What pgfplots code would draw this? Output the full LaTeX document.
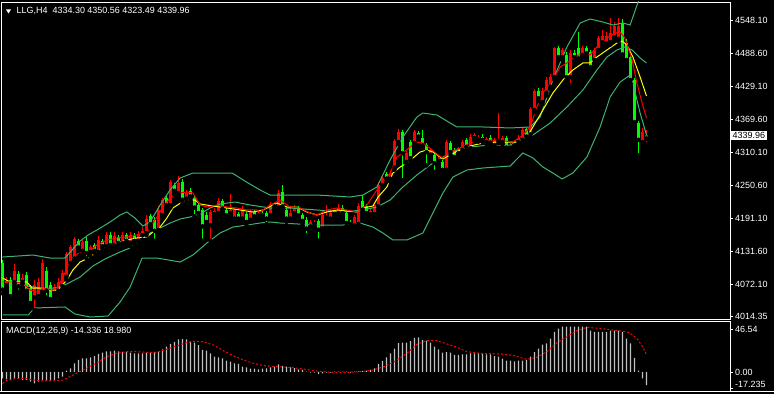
\documentclass[border=0pt]{standalone}
\usepackage{pgfplots}
\pgfplotsset{compat=1.18}
\usepackage{pgfplotstable}
\usepackage{fontspec}
\setmainfont{Liberation Sans}
\definecolor{bbgreen}{RGB}{60,179,113}
\definecolor{histgray}{RGB}{192,192,192}
\definecolor{cred}{RGB}{255,0,0}
\definecolor{cgreen}{RGB}{0,255,0}
\definecolor{cyel}{RGB}{255,255,0}
\newcommand{\lf}{\fontsize{9}{10}\selectfont}

\pgfplotstableread{
i O H L C
0 4110 4115 4055 4062
1 4070 4085 4066 4078
2 4080 4084 4045 4050
3 4075 4108 4070 4096
4 4090 4095 4058 4068
5 4076 4090 4072 4082
6 4088 4094 4052 4060
7 4065 4070 4033 4038
8 4048 4080 4025 4070
9 4050 4082 4045 4075
10 4058 4118 4055 4110
11 4095 4102 4048 4060
12 4070 4075 4040 4045
13 4056 4072 4052 4066
14 4060 4082 4056 4076
15 4068 4098 4064 4092
16 4085 4130 4080 4126
17 4110 4142 4104 4138
18 4118 4156 4114 4154
19 4150 4154 4132 4138
20 4132 4152 4124 4148
21 4150 4156 4118 4128
22 4130 4142 4122 4138
23 4142 4146 4128 4132
24 4130 4158 4126 4152
25 4150 4154 4134 4140
26 4140 4166 4138 4160
27 4160 4166 4138 4142
28 4142 4166 4138 4158
29 4156 4160 4140 4146
30 4146 4166 4142 4160
31 4160 4164 4146 4150
32 4146 4166 4140 4160
33 4160 4164 4144 4150
34 4150 4168 4146 4162
35 4160 4174 4152 4168
36 4164 4196 4160 4190
37 4194 4198 4172 4180
38 4188 4192 4150 4168
39 4170 4212 4166 4206
40 4196 4228 4192 4224
41 4228 4232 4208 4214
42 4214 4260 4210 4256
43 4250 4254 4234 4240
44 4236 4266 4230 4254
45 4256 4262 4218 4224
46 4226 4242 4220 4236
47 4240 4246 4222 4230
48 4228 4232 4194 4210
49 4214 4218 4192 4200
50 4206 4210 4150 4176
51 4196 4202 4178 4184
52 4178 4206 4150 4202
53 4198 4210 4194 4204
54 4200 4228 4196 4222
55 4222 4226 4200 4208
56 4206 4210 4190 4196
57 4200 4234 4196 4206
58 4190 4210 4184 4206
59 4198 4202 4186 4190
60 4190 4212 4186 4208
61 4198 4202 4178 4184
62 4188 4206 4184 4202
63 4202 4206 4190 4194
64 4196 4206 4192 4200
65 4200 4204 4190 4196
66 4200 4204 4180 4190
67 4196 4220 4192 4216
68 4216 4218 4208 4212
69 4210 4242 4206 4236
70 4238 4250 4208 4212
71 4206 4210 4184 4190
72 4190 4212 4186 4200
73 4200 4214 4196 4210
74 4208 4212 4190 4196
75 4196 4200 4180 4186
76 4188 4192 4160 4172
77 4176 4188 4172 4184
78 4180 4188 4176 4182
79 4186 4190 4150 4170
80 4172 4206 4168 4196
81 4192 4214 4188 4194
82 4190 4206 4184 4200
83 4200 4204 4192 4198
84 4200 4216 4196 4210
85 4210 4214 4196 4200
86 4200 4204 4176 4182
87 4184 4188 4176 4180
88 4178 4196 4174 4192
89 4180 4218 4176 4212
90 4222 4232 4202 4206
91 4212 4216 4194 4200
92 4198 4208 4194 4204
93 4198 4218 4194 4214
94 4212 4256 4208 4250
95 4250 4268 4246 4264
96 4270 4274 4256 4262
97 4262 4278 4256 4272
98 4282 4334 4278 4330
99 4328 4352 4324 4346
100 4346 4350 4259 4308
101 4292 4312 4288 4308
102 4328 4332 4294 4299
103 4326 4350 4322 4346
104 4344 4348 4334 4338
105 4335 4350 4318 4322
106 4322 4326 4286 4310
107 4305 4318 4300 4313
108 4305 4308 4274 4290
109 4294 4302 4290 4298
110 4292 4296 4274 4278
111 4278 4332 4274 4328
112 4326 4330 4305 4310
113 4314 4318 4296 4301
114 4308 4320 4304 4317
115 4314 4332 4310 4328
116 4332 4336 4315 4319
117 4317 4342 4313 4337
118 4335 4345 4330 4340
119 4333 4341 4329 4337
120 4338 4342 4328 4332
121 4328 4338 4324 4334
122 4336 4340 4322 4327
123 4322 4335 4313 4331
124 4330 4380 4326 4334
125 4328 4339 4324 4335
126 4335 4339 4314 4318
127 4318 4327 4314 4323
128 4322 4330 4318 4325
129 4328 4340 4324 4335
130 4332 4356 4328 4350
131 4352 4356 4334 4338
132 4342 4392 4338 4388
133 4386 4424 4382 4420
134 4420 4426 4402 4407
135 4400 4426 4396 4420
136 4417 4446 4412 4440
137 4428 4450 4424 4446
138 4445 4500 4440 4497
139 4497 4502 4476 4481
140 4481 4498 4476 4494
141 4485 4490 4440 4445
142 4445 4494 4430 4489
143 4489 4494 4476 4481
144 4497 4526 4474 4479
145 4485 4502 4480 4497
146 4497 4502 4484 4488
147 4490 4494 4456 4463
148 4476 4498 4470 4494
149 4494 4520 4490 4515
150 4508 4530 4504 4520
151 4506 4526 4500 4520
152 4508 4552 4504 4524
153 4517 4544 4512 4538
154 4514 4552 4510 4538
155 4542 4550 4478 4486
156 4506 4514 4468 4476
157 4482 4486 4434 4440
158 4440 4444 4358 4364
159 4362 4366 4304 4332
160 4328 4354 4324 4346
161 4334.30 4350.56 4323.49 4339.96
}\candles

\pgfplotstableread{
i p
0 4082.9
1.9 4075.7
6.1 4075.7
7.4 4064.8
9.4 4064.8
11.9 4061.2
13.9 4061.2
16.1 4079.3
17.6 4097.3
19.4 4111.7
21.4 4118.9
23.6 4129.8
25.1 4137.0
26.9 4140.6
28.6 4146.0
31.1 4151.4
33.6 4155.0
36.1 4156.8
37.6 4165.8
39.4 4174.8
41.1 4191.1
42.6 4209.1
44.9 4219.9
46.4 4223.5
48.1 4223.5
49.4 4216.3
52.6 4212.7
56.1 4209.1
59.4 4205.5
62.6 4201.9
65.1 4205.5
68.6 4218.1
71.1 4210.9
73.6 4210.9
76.1 4201.9
78.6 4196.5
81.1 4201.9
83.6 4205.5
86.1 4203.7
88.6 4201.9
90.1 4209.1
92.6 4212.7
93.9 4228.9
96.1 4247.0
97.6 4272.2
99.4 4283.0
101.1 4290.2
102.6 4299.3
104.4 4310.1
106.1 4313.7
107.6 4310.1
109.4 4301.1
110.1 4297.5
111.9 4304.7
114.4 4313.7
116.9 4320.9
120.1 4326.3
123.6 4328.1
128.6 4328.1
131.1 4337.1
132.6 4355.2
135.1 4385.8
137.6 4416.5
140.1 4439.9
142.6 4458.0
145.1 4470.6
146.9 4470.6
148.6 4481.4
151.1 4494.0
153.6 4506.6
154.9 4510.2
156.1 4503.0
157.6 4481.4
159.4 4445.3
161 4411.1
}\yellowma

\pgfplotstableread{
i p
0 4075.7
2.6 4075.7
5.1 4073.9
6.9 4061.2
8.6 4057.6
10.1 4064.8
12.4 4061.2
13.9 4066.6
15.6 4091.9
17.4 4118.9
19.4 4129.8
21.1 4128.0
23.6 4142.4
26.1 4151.4
28.6 4155.0
31.1 4156.8
33.6 4160.4
36.1 4165.8
38.6 4192.9
40.1 4210.9
41.9 4227.1
43.6 4236.1
46.1 4237.9
47.6 4236.1
49.4 4214.5
51.1 4210.9
53.6 4214.5
56.1 4210.9
58.6 4209.1
61.1 4205.5
63.6 4205.5
64.4 4201.9
66.9 4214.5
69.4 4223.5
71.9 4210.9
74.4 4209.1
76.9 4200.1
78.6 4196.5
81.1 4205.5
83.6 4209.1
86.1 4205.5
88.6 4201.9
91.1 4214.5
93.6 4241.6
95.1 4254.2
96.9 4272.2
98.6 4301.1
100.1 4308.3
101.9 4319.1
103.6 4328.1
105.1 4326.3
107.4 4313.7
108.9 4304.7
110.1 4299.3
111.9 4310.1
114.4 4317.3
116.9 4326.3
120.1 4331.7
123.6 4331.7
127.6 4328.1
130.1 4340.7
131.9 4355.2
133.6 4391.2
135.1 4416.5
137.6 4439.9
139.4 4463.4
141.1 4470.6
142.6 4479.6
145.1 4488.6
146.9 4485.0
148.6 4499.4
151.1 4515.6
153.1 4524.6
154.4 4526.5
155.6 4515.6
157.4 4476.0
158.6 4434.5
159.9 4398.4
161 4371.4
}\redma

\pgfplotstableread{
i p
0 4120.7
7.6 4124.3
11.9 4118.9
15.6 4118.9
17.4 4133.4
19.4 4149.6
21.4 4160.4
23.6 4169.4
26.9 4183.9
29.4 4196.5
31.1 4201.9
33.1 4191.1
35.1 4176.6
36.9 4183.9
39.4 4214.5
41.9 4241.6
44.4 4263.2
47.6 4272.2
57.4 4272.2
59.4 4263.2
61.4 4254.2
64.4 4241.6
66.9 4232.5
69.4 4232.5
78.6 4232.5
86.9 4228.9
90.1 4232.5
93.6 4247.0
96.9 4295.7
100.1 4337.1
103.6 4373.2
105.1 4380.4
108.6 4376.8
111.9 4362.4
113.6 4355.2
120.1 4355.2
126.9 4353.4
131.9 4355.2
134.4 4373.2
137.6 4439.9
141.1 4499.4
144.4 4542.7
146.9 4549.9
150.1 4544.5
152.6 4539.1
155.1 4542.7
156.9 4539.1
158.9 4580.6
161 4622.0
}\bbup

\pgfplotstableread{
i p
0 4070.3
4.4 4070.3
9.4 4064.8
13.1 4064.8
16.1 4072.1
19.4 4084.7
22.6 4104.5
25.6 4117.1
29.4 4129.8
31.9 4137.0
34.4 4151.4
36.9 4164.0
39.4 4173.0
41.9 4182.0
44.4 4189.3
46.9 4192.9
49.4 4198.3
51.9 4209.1
54.4 4216.3
58.1 4219.9
61.9 4214.5
66.9 4209.1
71.9 4209.1
78.6 4205.5
85.1 4201.9
90.1 4205.5
93.6 4210.9
96.9 4223.5
100.1 4247.0
103.6 4268.6
106.9 4286.6
110.1 4301.1
113.6 4313.7
116.9 4319.1
121.9 4322.7
126.9 4322.7
129.4 4331.7
132.6 4340.7
136.9 4362.4
141.1 4391.2
145.1 4421.9
148.6 4458.0
151.1 4481.4
153.6 4494.0
155.6 4499.4
157.4 4494.0
159.4 4479.6
161 4470.6
}\bbmid

\pgfplotstableread{
i p
0 4016.2
6.4 4016.2
8.1 4028.8
15.6 4030.6
18.1 4018.0
21.9 4012.5
26.4 4014.4
29.4 4039.6
31.9 4066.6
34.9 4118.9
38.6 4118.9
44.4 4111.7
47.6 4124.3
51.1 4146.0
54.4 4164.0
57.6 4174.8
61.1 4178.4
64.4 4182.0
66.9 4183.9
69.4 4182.0
78.6 4178.4
85.1 4178.4
89.4 4182.0
92.6 4174.8
95.1 4164.0
97.6 4151.4
101.1 4151.4
105.1 4164.0
107.6 4200.1
110.1 4236.1
112.6 4265.0
116.1 4277.6
120.1 4281.2
126.9 4284.8
130.1 4308.3
132.6 4299.3
135.1 4283.0
137.6 4272.2
139.9 4261.4
142.6 4272.2
146.1 4301.1
149.4 4355.2
151.9 4409.2
154.4 4436.3
156.9 4448.9
157.6 4434.5
159.4 4380.4
161 4340.7
}\bblow

\pgfplotstableread{
i m
0 -6.9
1 -7.9
2 -8.7
3 -6.9
4 -6.9
5 -8.7
6 -8.7
7 -10.5
8 -12.3
9 -10.5
10 -8.7
11 -9.4
12 -9.4
13 -8.7
14 -6.9
15 -5.0
16 1.5
17 4.0
18 9.4
19 13.0
20 14.8
21 14.8
22 15.9
23 17.3
24 19.5
25 21.0
26 22.4
27 22.4
28 23.0
29 22.4
30 21.7
31 21.7
32 21.0
33 20.2
34 20.2
35 20.2
36 21.0
37 21.0
38 21.7
39 22.0
40 24.5
41 27.4
42 30.3
43 32.5
44 35.3
45 35.7
46 35.3
47 32.8
48 31.7
49 29.2
50 23.8
51 23.0
52 20.2
53 16.6
54 15.9
55 14.8
56 12.3
57 11.2
58 9.4
59 8.7
60 5.8
61 5.0
62 3.6
63 3.6
64 2.9
65 3.6
66 4.0
67 5.0
68 5.8
69 8.3
70 6.5
71 5.8
72 5.0
73 4.3
74 2.9
75 2.2
76 0.3
77 -0.7
78 -0.7
79 -2.2
80 -1.5
81 -0.7
82 -0.7
83 0.3
84 0.3
85 0.5
86 0.5
87 -0.7
88 0.3
89 0.7
90 1.0
91 1.4
92 2.2
93 4.0
94 8.7
95 12.0
96 15.9
97 20.2
98 25.2
99 31.3
100 31.7
101 31.7
102 33.5
103 36.8
104 37.5
105 34.6
106 33.9
107 31.7
108 27.4
109 24.5
110 20.9
111 21.6
112 20.9
113 18.4
114 18.4
115 19.1
116 19.1
117 20.2
118 20.2
119 20.2
120 20.2
121 19.1
122 19.1
123 17.3
124 16.6
125 14.4
126 12.3
127 12.3
128 11.5
129 12.3
130 12.3
131 13.0
132 16.6
133 21.6
134 25.2
135 29.6
136 31.0
137 36.0
138 43.3
139 46.9
140 49.0
141 49.0
142 49.0
143 49.0
144 49.0
145 49.0
146 49.0
147 44.7
148 43.3
149 43.3
150 43.3
151 43.3
152 44.7
153 44.7
154 44.7
155 43.3
156 36.0
157 31.0
158 15.2
159 1.4
160 -7.0
161 -14.336
}\macdtab

\pgfplotstableread{
i s
0 -12.5
1 -9.4
2.7 -7.6
4.4 -6.9
6 -7.2
7.7 -8.7
10.2 -9.7
12.7 -9.7
15.2 -8.7
16.9 -5.0
18.5 -1.4
21 4.0
23.5 9.4
26 16.6
28.5 20.2
31 22.0
33.5 22.0
36 21.3
38.5 21.3
41 24.5
43.5 28.1
46 31.7
47.7 33.2
50.2 32.8
52.7 29.2
55.2 23.0
57.7 17.7
60.2 13.0
62.7 9.4
65.2 6.9
68.5 5.8
71.9 5.0
75.2 3.2
78.5 1.1
81.9 -0.4
86.9 -0.4
90.2 0.7
92.7 2.2
95.2 5.5
97.7 10.5
101.1 20.2
103.6 30.0
106.1 33.9
108.6 33.9
111.1 30.3
113.6 26.7
116.1 22.0
119.4 20.2
124.4 19.5
127.6 18.0
131.1 13.7
133.6 15.9
136.1 22.0
138.6 31.7
141.1 38.2
143.6 44.7
146.1 48.3
149.4 47.2
152.6 45.4
156.1 43.6
157.6 40.0
158.9 34.6
160.1 26.7
161 18.98
}\signaltab

\begin{document}
\begin{tikzpicture}
\fill[black] (0,0) rectangle (774bp,394bp);
\path[use as bounding box] (0,0) rectangle (774bp,394bp);

\begin{axis}[
  at={(1bp,75bp)}, anchor=south west,
  width=729bp, height=317bp, scale only axis,
  xmin=-0.375, xmax=181.875,
  ymin=4008.94, ymax=4580.6,
  axis line style={white, line width=0.8bp},
  xtick=\empty,
  ytick={4014.35,4072.10,4131.60,4191.10,4250.60,4310.10,4369.60,4429.10,4488.60,4548.10},
  yticklabels={4014.35,4072.10,4131.60,4191.10,4250.60,4310.10,4369.60,4429.10,4488.60,4548.10},
  ytick pos=right, yticklabel pos=right,
  tick align=outside, major tick length=3bp,
  tick style={white, line width=0.8bp},
  yticklabel style={font=\lf, text=white, anchor=west, inner sep=0pt, xshift=2bp},
]
% bull candles (red)
\addplot[only marks, mark=none, forget plot,
  restrict expr to domain={\thisrow{C}-\thisrow{O}}{0.0001:100000},
  error bars/.cd, y dir=plus, y explicit, error mark=none,
  error bar style={cred, line width=1bp}]
  table[x=i, y=L, y error expr=\thisrow{H}-\thisrow{L}] {\candles};
\addplot[only marks, mark=none, forget plot,
  restrict expr to domain={\thisrow{C}-\thisrow{O}}{0.0001:100000},
  error bars/.cd, y dir=plus, y explicit, error mark=none,
  error bar style={cred, line width=3bp}]
  table[x=i, y=O, y error expr=\thisrow{C}-\thisrow{O}] {\candles};
% bear candles (green)
\addplot[only marks, mark=none, forget plot,
  restrict expr to domain={\thisrow{O}-\thisrow{C}}{0.0001:100000},
  error bars/.cd, y dir=plus, y explicit, error mark=none,
  error bar style={cgreen, line width=1bp}]
  table[x=i, y=L, y error expr=\thisrow{H}-\thisrow{L}] {\candles};
\addplot[only marks, mark=none, forget plot,
  restrict expr to domain={\thisrow{O}-\thisrow{C}}{0.0001:100000},
  error bars/.cd, y dir=plus, y explicit, error mark=none,
  error bar style={cgreen, line width=3bp}]
  table[x=i, y=C, y error expr=\thisrow{O}-\thisrow{C}] {\candles};
% bands and MAs
\addplot[bbgreen, line width=1bp, mark=none] table[x=i,y=p] {\bbup};
\addplot[bbgreen, line width=1bp, mark=none] table[x=i,y=p] {\bbmid};
\addplot[bbgreen, line width=1bp, mark=none] table[x=i,y=p] {\bblow};
\addplot[cyel, line width=1bp, mark=none] table[x=i,y=p] {\yellowma};
\addplot[cred, line width=1bp, mark=none] table[x=i,y=p] {\redma};
\end{axis}

\begin{axis}[
  at={(1bp,3bp)}, anchor=south west,
  width=729bp, height=70bp, scale only axis,
  xmin=-0.375, xmax=181.875,
  ymin=-20.56, ymax=55.18,
  axis line style={white, line width=0.8bp},
  xtick=\empty,
  ytick={0,46.54}, yticklabels={0.00,46.54},
  extra y ticks={-17.235}, extra y tick labels={-17.235},
  extra y tick style={yticklabel style={yshift=4bp}},
  ytick pos=right, yticklabel pos=right,
  tick align=outside, major tick length=3bp,
  tick style={white, line width=0.8bp},
  yticklabel style={font=\lf, text=white, anchor=west, inner sep=0pt, xshift=2bp},
]
\addplot[ybar, bar width=1.3bp, fill=histgray, draw=none] table[x=i,y=m] {\macdtab};
\addplot[cred, line width=1bp, dash pattern=on 2bp off 2bp, mark=none] table[x=i,y=s] {\signaltab};
\end{axis}

\draw[white, line width=0.8bp] (0,3bp) -- (774bp,3bp);
\fill[white] (6bp,384.5bp) -- (11bp,384.5bp) -- (8.5bp,380.5bp) -- cycle;
\node[anchor=west, inner sep=0pt, text=white, font=\lf] at (16.5bp,383bp) {LLG,H4\hspace*{5bp}4334.30 4350.56 4323.49 4339.96};
\node[anchor=west, inner sep=0pt, text=white, font=\lf] at (6bp,63bp) {MACD(12,26,9) -14.336 18.980};
\node[anchor=west, fill=white, text=black, font=\lf, inner xsep=1.5bp, inner ysep=1bp] at (731bp,258.6bp) {4339.96};
\end{tikzpicture}
\end{document}
